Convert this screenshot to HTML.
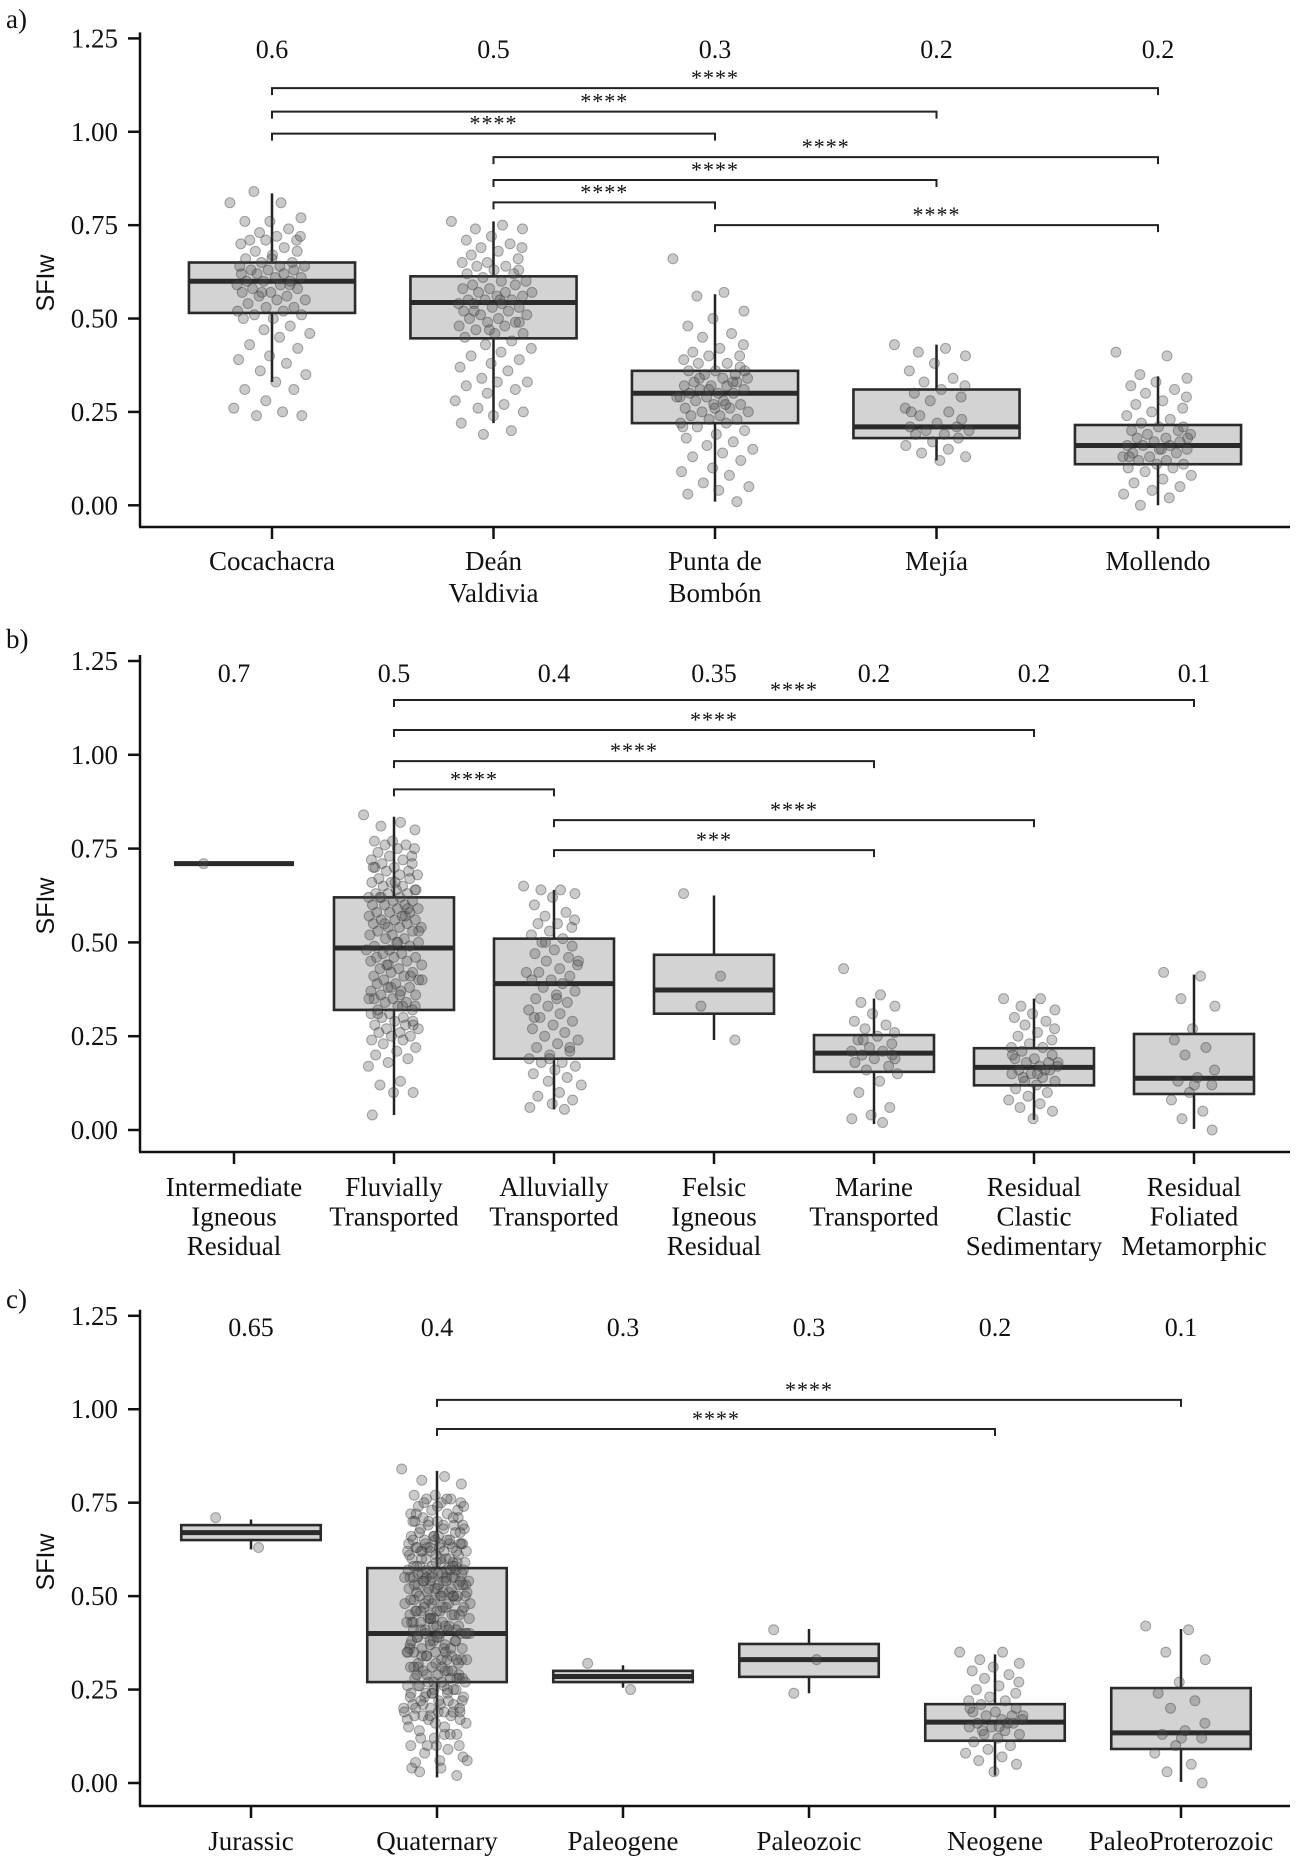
<!DOCTYPE html>
<html><head><meta charset="utf-8"><style>
html,body{margin:0;padding:0;background:#fff;}
svg{display:block;}
text{font-family:"Liberation Serif",serif;fill:#111;}
</style></head><body>
<svg id="chart" width="1299" height="1863" viewBox="0 0 1299 1863" xmlns="http://www.w3.org/2000/svg" font-family="Liberation Serif, serif">
</svg>
<script>
// ---------- Panel a data ----------
const catsA = [["Cocachacra"],["Deán","Valdivia"],["Punta de","Bombón"],["Mejía"],["Mollendo"]];
const topA = ["0.6","0.5","0.3","0.2","0.2"];
const statsA = [[0.33,0.515,0.60,0.65,0.835],[0.22,0.447,0.543,0.613,0.76],[0.01,0.22,0.30,0.36,0.565],[0.12,0.18,0.21,0.31,0.43],[0.00,0.11,0.16,0.215,0.345]];
const coca = [0.81,0.81,0.84,0.77,0.76,0.76,0.74,0.73,0.72,0.72,0.71,0.71,0.71,0.70,0.69,0.68,0.68,0.67,0.66,0.65,0.65,0.64,0.64,0.63,0.63,0.63,0.62,0.62,0.62,0.61,0.61,0.60,0.60,0.60,0.59,0.59,0.58,0.58,0.57,0.57,0.56,0.56,0.55,0.55,0.54,0.53,0.53,0.52,0.52,0.51,0.51,0.50,0.50,0.48,0.47,0.46,0.45,0.43,0.42,0.40,0.39,0.38,0.36,0.35,0.33,0.31,0.31,0.28,0.26,0.25,0.24,0.24,0.66,0.64,0.59,0.57];
const dean = [0.76,0.75,0.74,0.74,0.72,0.71,0.70,0.69,0.69,0.68,0.67,0.66,0.65,0.65,0.64,0.64,0.63,0.63,0.62,0.62,0.61,0.60,0.60,0.59,0.59,0.58,0.58,0.57,0.57,0.56,0.56,0.55,0.55,0.55,0.54,0.54,0.54,0.53,0.53,0.52,0.52,0.51,0.51,0.50,0.50,0.49,0.49,0.48,0.48,0.47,0.46,0.46,0.45,0.44,0.43,0.42,0.41,0.40,0.39,0.38,0.37,0.36,0.34,0.33,0.33,0.32,0.31,0.30,0.28,0.27,0.26,0.25,0.24,0.22,0.20,0.19,0.57,0.55,0.52,0.49,0.47];
const punta = [0.66,0.57,0.56,0.52,0.50,0.48,0.46,0.45,0.43,0.42,0.41,0.40,0.40,0.39,0.38,0.38,0.37,0.36,0.36,0.35,0.35,0.34,0.34,0.33,0.33,0.32,0.32,0.32,0.31,0.31,0.30,0.30,0.30,0.29,0.29,0.28,0.28,0.27,0.27,0.26,0.26,0.25,0.25,0.24,0.24,0.23,0.23,0.22,0.22,0.21,0.20,0.19,0.18,0.17,0.16,0.15,0.14,0.13,0.12,0.10,0.09,0.08,0.06,0.05,0.04,0.03,0.01,0.31,0.29,0.27,0.34,0.36,0.26,0.21,0.33];
const mejia = [0.43,0.42,0.41,0.40,0.38,0.36,0.34,0.33,0.32,0.31,0.30,0.29,0.28,0.26,0.25,0.24,0.23,0.22,0.21,0.21,0.20,0.20,0.19,0.19,0.18,0.17,0.16,0.15,0.14,0.13,0.12,0.25];
const mollendo = [0.41,0.40,0.35,0.34,0.33,0.32,0.31,0.30,0.29,0.28,0.27,0.26,0.25,0.24,0.23,0.22,0.21,0.21,0.20,0.20,0.19,0.19,0.18,0.18,0.17,0.17,0.16,0.16,0.16,0.15,0.15,0.14,0.14,0.13,0.13,0.12,0.12,0.11,0.11,0.10,0.10,0.09,0.08,0.07,0.06,0.05,0.04,0.03,0.02,0.00,0.18,0.15,0.13];
const bracketsA = [[0,4,1.117,"****"],[0,3,1.054,"****"],[0,2,0.995,"****"],[1,4,0.932,"****"],[1,3,0.871,"****"],[1,2,0.811,"****"],[2,4,0.75,"****"]];

// ---------- Panel b data ----------
const catsB = [["Intermediate","Igneous","Residual"],["Fluvially","Transported"],["Alluvially","Transported"],["Felsic","Igneous","Residual"],["Marine","Transported"],["Residual","Clastic","Sedimentary"],["Residual","Foliated","Metamorphic"]];
const topB = ["0.7","0.5","0.4","0.35","0.2","0.2","0.1"];
const statsB = [[0.71,0.71,0.71,0.71,0.71],[0.04,0.32,0.485,0.62,0.835],[0.055,0.19,0.39,0.51,0.64],[0.24,0.31,0.373,0.467,0.625],[0.016,0.155,0.205,0.253,0.35],[0.027,0.119,0.167,0.218,0.35],[0.003,0.096,0.138,0.256,0.414]];
const interm = [0.71];
const fluv = [0.84,0.82,0.81,0.80,0.77,0.77,0.76,0.76,0.75,0.75,0.74,0.73,0.73,0.72,0.72,0.71,0.71,0.70,0.70,0.69,0.69,0.68,0.68,0.67,0.67,0.66,0.66,0.65,0.65,0.64,0.64,0.63,0.63,0.63,0.62,0.62,0.62,0.61,0.61,0.60,0.60,0.60,0.59,0.59,0.58,0.58,0.58,0.57,0.57,0.56,0.56,0.56,0.55,0.55,0.54,0.54,0.54,0.53,0.53,0.52,0.52,0.51,0.51,0.50,0.50,0.49,0.49,0.48,0.48,0.47,0.47,0.46,0.46,0.45,0.45,0.44,0.44,0.43,0.43,0.42,0.42,0.41,0.41,0.40,0.40,0.39,0.39,0.38,0.38,0.37,0.37,0.36,0.36,0.35,0.35,0.34,0.34,0.33,0.33,0.32,0.32,0.31,0.31,0.30,0.30,0.29,0.29,0.28,0.28,0.27,0.27,0.26,0.26,0.25,0.25,0.24,0.24,0.23,0.22,0.21,0.20,0.19,0.18,0.17,0.13,0.12,0.10,0.10,0.04,0.57,0.55,0.53,0.50,0.46,0.41,0.38,0.35,0.33,0.62,0.64,0.66,0.70,0.59,0.44,0.40,0.36,0.31,0.28];
const alluv = [0.65,0.64,0.64,0.63,0.62,0.60,0.58,0.57,0.56,0.55,0.55,0.54,0.53,0.52,0.51,0.50,0.49,0.48,0.47,0.46,0.45,0.44,0.43,0.42,0.41,0.40,0.40,0.39,0.38,0.37,0.36,0.35,0.34,0.33,0.32,0.31,0.30,0.29,0.28,0.27,0.26,0.25,0.24,0.23,0.22,0.21,0.20,0.19,0.18,0.18,0.17,0.16,0.15,0.14,0.13,0.12,0.10,0.09,0.08,0.07,0.06,0.055,0.50,0.45,0.35,0.30,0.22,0.19,0.42];
const felsic = [0.63,0.41,0.33,0.24];
const marine = [0.43,0.36,0.34,0.33,0.31,0.29,0.28,0.27,0.26,0.25,0.24,0.23,0.22,0.21,0.21,0.20,0.20,0.19,0.18,0.17,0.16,0.15,0.13,0.10,0.06,0.04,0.03,0.02,0.24,0.19];
const clastic = [0.35,0.35,0.33,0.32,0.31,0.30,0.29,0.28,0.27,0.26,0.25,0.24,0.23,0.22,0.22,0.21,0.20,0.19,0.19,0.18,0.18,0.17,0.17,0.16,0.16,0.15,0.15,0.14,0.14,0.13,0.12,0.11,0.10,0.09,0.08,0.07,0.06,0.05,0.03,0.20,0.16,0.13,0.18,0.15];
const foliated = [0.42,0.41,0.35,0.33,0.27,0.24,0.22,0.20,0.16,0.14,0.13,0.12,0.10,0.08,0.05,0.03,0.00,0.12];
const bracketsB = [[1,6,1.146,"****"],[1,5,1.066,"****"],[1,4,0.983,"****"],[1,2,0.908,"****"],[2,5,0.826,"****"],[2,4,0.746,"***"]];

// ---------- Panel c data ----------
const catsC = [["Jurassic"],["Quaternary"],["Paleogene"],["Paleozoic"],["Neogene"],["PaleoProterozoic"]];
const topC = ["0.65","0.4","0.3","0.3","0.2","0.1"];
const statsC = [[0.625,0.65,0.67,0.69,0.705],[0.015,0.27,0.40,0.575,0.835],[0.255,0.27,0.285,0.30,0.315],[0.24,0.284,0.33,0.372,0.412],[0.02,0.113,0.163,0.211,0.344],[0.003,0.091,0.134,0.254,0.412]];
const jurassic = [0.71,0.63];
const quaternary = fluv.concat(alluv, marine, dean.slice(0,60));
const paleogene = [0.32,0.25];
const paleozoic = [0.41,0.33,0.24];
const neogene = clastic;
const paleoprot = foliated;
const bracketsC = [[1,5,1.025,"****"],[1,4,0.947,"****"]];

const svg = document.getElementById('chart');
const NS = 'http://www.w3.org/2000/svg';
function mk(tag, attrs, parent){const e=document.createElementNS(NS,tag);for(const k in attrs)e.setAttribute(k,attrs[k]);(parent||svg).appendChild(e);return e;}

function drawPanel(p){
  const g = mk('g',{});
  
  
  const unit = (p.y0 - p.y125)/1.25;
  const yS = v => p.y0 - v*unit;
  const xS = i => p.x0 + i*p.step;
  const axX = 140, axR = 1290;
  const lt = mk('text',{x:6,y:p.letterY,'font-size':27},g); lt.textContent = p.id+')';
  
  
  const yt = mk('text',{x:0,y:0,'font-size':25,'text-anchor':'middle',transform:`translate(54,${p.titleY}) rotate(-90)`,style:'font-family:"Liberation Sans",sans-serif'},g);
  yt.textContent='SFIw';
  
  
  const ya = mk('line',{x1:axX,y1:yS(1.25)-6,x2:axX,y2:p.axisY,stroke:'#111','stroke-width':2.5},g);
  
  
  const xa = mk('line',{x1:axX-1,y1:p.axisY,x2:axR,y2:p.axisY,stroke:'#111','stroke-width':2.5},g);
  
  
  [0,0.25,0.5,0.75,1.0,1.25].forEach(v=>{
    mk('line',{x1:axX-12,y1:yS(v),x2:axX,y2:yS(v),stroke:'#111','stroke-width':2.5},g);
    const t = mk('text',{x:118,y:yS(v)+9,'font-size':27,'text-anchor':'end'},g);
    t.textContent = v.toFixed(2);
    
    
  });
  p.cats.forEach((c,i)=>{
    mk('line',{x1:xS(i),y1:p.axisY,x2:xS(i),y2:p.axisY+12,stroke:'#111','stroke-width':2.5},g);
    c.forEach((line,j)=>{
      const t = mk('text',{x:xS(i),y:p.labelY+j*p.lineH+9,'font-size':27,'text-anchor':'middle'},g);
      t.textContent = line;
      
      
    });
    const tn = mk('text',{x:xS(i),y:p.topY+9,'font-size':26,'text-anchor':'middle'},g);
    tn.textContent = p.top[i];
    
    
  });
  const bw = 0.75*p.step;
  p.stats.forEach((s,i)=>{
    const x = xS(i);
    const bg = mk('g',{},g);
    
    
    mk('line',{x1:x,y1:yS(s[4]),x2:x,y2:yS(s[0]),stroke:'#222','stroke-width':2.5},bg);
    if(s[3]>s[1]) mk('rect',{x:x-bw/2,y:yS(s[3]),width:bw,height:yS(s[1])-yS(s[3]),fill:'#d3d3d3',stroke:'#2a2a2a','stroke-width':2.6},bg);
    mk('line',{x1:x-bw/2,y1:yS(s[2]),x2:x+bw/2,y2:yS(s[2]),stroke:'#2a2a2a','stroke-width':5},bg);
  });
  p.pts.forEach((arr,i)=>{
    const x = xS(i);
    const spread = 0.19*p.step;
    arr.forEach((v,k)=>{
      const j = (((k*0.6180339)%1)*2-1)*spread*(1-0.25*((k*0.37)%1));
      const c = mk('circle',{cx:x+j,cy:yS(v),r:5,fill:'rgba(80,80,80,0.3)',stroke:'rgba(50,50,50,0.4)','stroke-width':1},g);
      
      
    });
  });
  p.brackets.forEach(b=>{
    const x1=xS(b[0]), x2=xS(b[1]), y=yS(b[2]);
    const bg = mk('g',{},g);
    
    
    mk('path',{d:`M${x1},${y+7}V${y}H${x2}V${y+7}`,fill:'none',stroke:'#222','stroke-width':2},bg);
    const t = mk('text',{x:(x1+x2)/2,y:y-3,'font-size':22,'text-anchor':'middle','letter-spacing':1},bg);
    t.textContent = b[3];
    
    
  });
}

drawPanel({id:'a',y125:38.4,y0:505.3,axisY:527,x0:272,step:221.5,cats:catsA,top:topA,stats:statsA,
  pts:[coca,dean,punta,mejia,mollendo],brackets:bracketsA,labelY:561,lineH:32,topY:49,letterY:28,titleY:283});
drawPanel({id:'b',y125:661,y0:1130,axisY:1152,x0:234,step:160,cats:catsB,top:topB,stats:statsB,
  pts:[interm,fluv,alluv,felsic,marine,clastic,foliated],brackets:bracketsB,labelY:1187,lineH:29.5,topY:673,letterY:648,titleY:906});
drawPanel({id:'c',y125:1315.8,y0:1783,axisY:1806,x0:251,step:186,cats:catsC,top:topC,stats:statsC,
  pts:[jurassic,quaternary,paleogene,paleozoic,neogene,paleoprot],brackets:bracketsC,labelY:1841,lineH:30,topY:1327,letterY:1308,titleY:1562});
</script>
</body></html>
